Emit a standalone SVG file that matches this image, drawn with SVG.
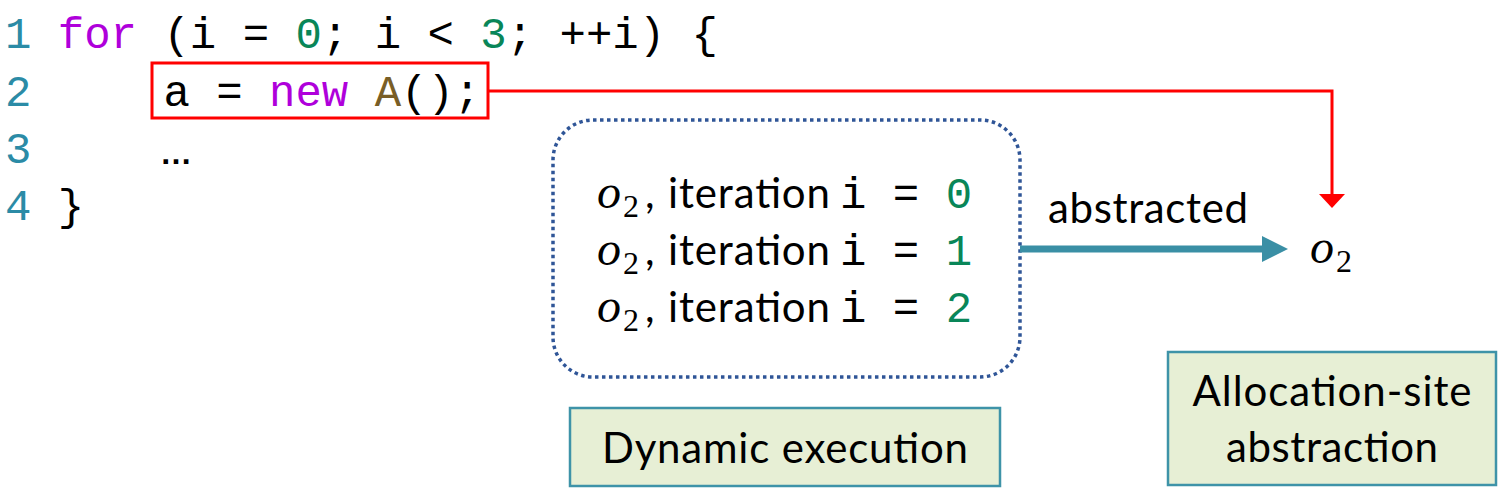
<svg xmlns="http://www.w3.org/2000/svg" width="1502" height="491" viewBox="0 0 1502 491">
  <defs>
    <style>
      .code { font-family: "Liberation Mono", "DejaVu Sans Mono", monospace; font-size: 44px; fill: #000; white-space: pre; }
      .ln { fill: #2B8BA6; }
      .kw { fill: #AF00DB; }
      .num { fill: #098658; }
      .cls { fill: #795E26; }
      .sans { font-family: Lato, "Open Sans", "DejaVu Sans", sans-serif; font-size: 42px; fill: #000; }
      .math { font-family: "Liberation Serif", "DejaVu Serif", serif; font-style: italic; font-size: 48px; fill: #000; }
      .sub { font-family: "Liberation Serif", "DejaVu Serif", serif; font-size: 32px; fill: #000; }
      .label { fill: #E7EFD5; stroke: #3E93A8; stroke-width: 2.5; }
    </style>
  </defs>
  <rect width="1502" height="491" fill="#fff"/>

  <g id="code">
    <text class="code" x="5" y="48" xml:space="preserve"><tspan class="ln">1</tspan> <tspan class="kw">for</tspan> (i = <tspan class="num">0</tspan>; i &lt; <tspan class="num">3</tspan>; ++i) {</text>
    <text class="code" x="5" y="106" xml:space="preserve"><tspan class="ln">2</tspan>     a = <tspan class="kw">new</tspan> <tspan class="cls">A</tspan>();</text>
    <text class="code" x="5" y="163" xml:space="preserve"><tspan class="ln">3</tspan></text>
    <text x="160" y="164" style="font-family: 'Liberation Sans', sans-serif; font-size: 32px; font-weight: bold; fill:#000;">…</text>
    <text class="code" x="5" y="220" xml:space="preserve"><tspan class="ln">4</tspan> }</text>
  </g>

  <g id="alloc-site">
    <rect x="152" y="63" width="336" height="55" fill="none" stroke="#FF0000" stroke-width="3"/>
  </g>

  <g id="dynamic-objects">
    <rect x="553" y="120" width="467" height="257" rx="40" ry="40" fill="none" stroke="#2F5597" stroke-width="3.5" stroke-dasharray="3.5 3.5"/>
    <text class="math" x="597" y="208">o</text><text class="sub" x="623" y="217">2</text><text class="sans" x="645" y="208">,</text>
    <text class="sans" x="668" y="208" textLength="162">iteration</text>
    <text class="code" x="840" y="208" xml:space="preserve">i = <tspan class="num">0</tspan></text>
    <text class="math" x="597" y="265">o</text><text class="sub" x="623" y="274">2</text><text class="sans" x="645" y="265">,</text>
    <text class="sans" x="668" y="265" textLength="162">iteration</text>
    <text class="code" x="840" y="265" xml:space="preserve">i = <tspan class="num">1</tspan></text>
    <text class="math" x="597" y="322">o</text><text class="sub" x="623" y="331">2</text><text class="sans" x="645" y="322">,</text>
    <text class="sans" x="668" y="322" textLength="162">iteration</text>
    <text class="code" x="840" y="322" xml:space="preserve">i = <tspan class="num">2</tspan></text>
  </g>

  <g id="abstract-object">
    <text class="math" x="1310" y="263">o</text><text class="sub" x="1336" y="272">2</text>
  </g>

  <g id="dynamic-label">
    <rect class="label" x="570" y="408" width="430" height="78"/>
    <text class="sans" x="785" y="463" text-anchor="middle" textLength="366">Dynamic execution</text>
  </g>

  <g id="abstraction-label">
    <rect class="label" x="1168" y="352" width="328" height="133"/>
    <text class="sans" x="1332" y="406" text-anchor="middle" textLength="279">Allocation-site</text>
    <text class="sans" x="1332" y="462" text-anchor="middle" textLength="212">abstraction</text>
  </g>

  <g id="connectors">
    <polyline points="488,91 1332,91 1332,196" fill="none" stroke="#FF0000" stroke-width="3"/>
    <polygon points="1319,194 1345,194 1332,208" fill="#FF0000"/>
    <line x1="1020" y1="249" x2="1265" y2="249" stroke="#3A8FA5" stroke-width="7"/>
    <polygon points="1262,236 1288,249 1262,262" fill="#3A8FA5"/>
    <text class="sans" x="1048" y="223" textLength="200">abstracted</text>
  </g>
</svg>
